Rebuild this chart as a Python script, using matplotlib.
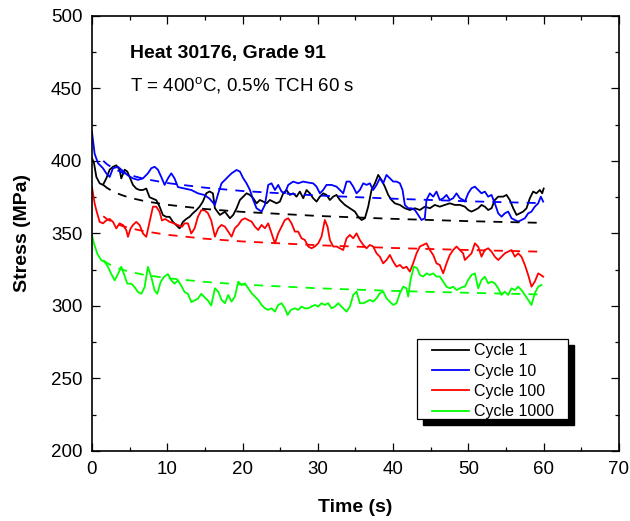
import numpy as np
import matplotlib
matplotlib.use("Agg")
import matplotlib.pyplot as plt
import matplotlib.patches as mpatches
from matplotlib.ticker import MultipleLocator

plt.rcParams["font.family"] = ["Liberation Sans", "DejaVu Sans"]
plt.rcParams["mathtext.fontset"] = "custom"
plt.rcParams["mathtext.rm"] = "Liberation Sans"

# Cycle 1 (black)
c1_t = [0.0, 0.27, 0.58, 1.02, 1.46, 1.90, 2.35, 2.79, 3.23, 3.67, 3.89, 4.34, 4.69, 5.00, 5.44, 5.88, 6.33, 6.77,
        7.21, 7.65, 8.10, 8.54, 8.98, 9.42, 9.87, 10.31, 10.75, 11.19, 11.64, 12.08, 12.52, 12.96, 13.41, 13.85,
        14.29, 14.73, 15.18, 15.62, 16.06,
        16.33, 16.99, 17.66, 18.32, 18.76, 19.21, 19.65, 20.09, 20.53, 20.98, 21.42, 21.86, 22.3, 22.75, 23.19,
        23.63, 24.07, 24.52, 24.96, 25.4, 25.84, 26.29, 26.73, 27.17, 27.61, 28.06, 28.5, 28.94, 29.38, 29.83,
        30.27, 30.71, 31.15, 31.6, 32.04, 32.48,
        32.93, 33.59, 34.26, 34.92, 35.36, 35.81, 36.25, 36.69, 37.13, 37.58, 38.02, 38.46, 38.9, 39.35, 39.79,
        40.23, 40.9, 41.56, 42.22, 42.89, 43.55, 44.21, 44.88, 45.54, 46.2, 46.87, 47.53, 48.2, 48.86,
        49.53, 49.97, 50.41, 50.86, 51.3, 51.74, 52.18, 52.63, 53.07, 53.51, 53.96, 54.62, 55.06, 55.5, 55.95,
        56.39, 56.83, 57.27, 57.72, 58.16, 58.6, 59.04, 59.49, 59.8, 60.0]
c1_s = [402, 398.5, 389, 384.6, 383.5, 388, 394, 396, 397, 394, 388, 394, 392.7, 389, 383.5, 381, 380, 380,
        381, 375, 374, 373, 368.5, 362.7, 361.5, 361.5, 358, 355.8, 353.5, 358, 360, 361.5, 364, 366,
        368.5, 372, 377.7, 379, 377.7,
        367.4, 362.8, 365, 360.5, 362.8, 367.4, 373.1, 375.4, 377.7, 376.6, 374.3, 370.8, 373.1, 372, 370.8,
        373.1, 372, 370.8, 372, 377.7, 380, 376.6, 377.7, 375.4, 378.9, 374.3, 380, 377.7, 374.3, 372,
        375.4, 377.7, 376.6, 373.1, 375.4, 376.6,
        373.1, 369.7, 367.4, 365.1, 361.6, 359.3, 360.5, 368.5, 380, 384.6, 390.4, 386.9, 382.3, 376.6, 373.1,
        370.8, 369.7, 367.4, 366.2, 367.4, 366.2, 368.5, 367.4, 369.7, 368.5, 369.7, 370.8, 369.7, 369.7,
        368.5, 366.2, 365.1, 366.2, 367.4, 369.7, 368.5, 366.2, 367.4, 373.1, 375.4, 375.4, 376.6, 373.1, 367.4,
        362.8, 363.9, 365.1, 367.4, 374.3, 378.9, 377.7, 380, 377.7, 381]

# Cycle 10 (blue)
c10_t = [0.0, 0.35, 0.80, 1.46, 1.90, 2.35, 2.79, 3.45, 4.12, 4.78, 5.44, 6.11, 6.77, 7.43, 7.88, 8.32, 8.76,
         9.20, 9.65, 10.09, 10.53, 10.97, 11.42, 12.30, 13.19, 14.07, 14.96, 15.62,
         16.33, 16.77, 17.21, 17.88, 18.54, 19.21, 19.65, 20.09, 20.53, 20.98, 21.42, 21.86, 22.53, 22.97,
         23.41, 23.85, 24.3, 24.74, 25.18, 25.62, 26.07, 26.73, 27.39, 28.06, 28.72, 29.38, 29.83, 30.27,
         30.71, 31.15, 31.82, 32.48,
         32.93, 33.37, 33.81, 34.26, 34.7, 35.14, 35.58, 36.03, 36.47, 36.91, 37.35, 37.8, 38.24, 38.68, 39.12,
         39.57, 40.01, 40.45, 40.9, 41.25, 41.56, 42.0, 42.44, 42.89, 43.33, 43.77, 44.21, 44.43, 44.88, 45.32,
         45.76, 46.2, 46.65, 47.09, 47.53, 47.97, 48.42, 48.86, 49.3,
         49.53, 49.97, 50.41, 50.86, 51.3, 51.74, 52.18, 52.63, 53.07, 53.51, 53.96, 54.4, 54.84, 55.28, 55.73,
         56.17, 56.61, 57.05, 57.5, 57.94, 58.38, 58.82, 59.27, 59.62, 59.93]
c10_s = [420, 405, 398.5, 395, 391.5, 389, 395, 396, 393, 390, 388, 387, 388, 391.5, 395, 396, 394,
         389, 383.5, 388, 391.5, 388, 382, 381, 380, 377.7, 376.5, 374,
         369.7, 377.7, 384.6, 388.1, 391.5, 393.8, 392.7, 388.1, 384.6, 380, 373.1, 367.4, 365.1, 369.7,
         383.5, 384.6, 380, 383.5, 378.9, 377.7, 383.5, 385.8, 384.6, 385.8, 385.1, 384.6, 382.3, 377.7,
         380, 383.5, 383.5, 382.3,
         380, 377.7, 385.8, 385.8, 382.3, 377.7, 380, 384.6, 383.5, 384.6, 380, 383.5, 388.1, 384.6, 390.4,
         388.1, 385.8, 385.8, 384.6, 380, 369.7, 367.4, 367.4, 366.2, 362.8, 359.3, 360.5, 373.1, 377.7, 375.4,
         378.9, 373.1, 374.3, 376.6, 373.1, 374.3, 377.7, 374.3, 373.1,
         372, 377.7, 381.2, 382.3, 380, 377.7, 378.9, 375.4, 376.6, 370.8, 363.9, 361.6, 363.9, 365.1, 360.5,
         359.3, 358.2, 359.3, 360.5, 363.9, 365.1, 368.5, 370.8, 375.4, 372]

# Cycle 100 (red)
c100_t = [0.0, 0.35, 0.58, 1.02, 1.46, 1.90, 2.35, 2.79, 3.23, 3.67, 4.12, 4.56, 4.78, 5.13, 5.44, 5.88, 6.33,
          6.77, 7.21, 7.65, 8.10, 8.54, 8.98, 9.29, 9.73, 10.31, 10.88, 11.42, 11.95, 12.30, 12.74, 13.19,
          13.63, 14.07, 14.51, 14.96, 15.40, 15.84,
          16.33, 16.77, 17.21, 17.66, 18.10, 18.54, 18.98, 19.43, 19.87, 20.31, 20.75, 21.2, 21.64, 22.08,
          22.53, 22.97, 23.41, 23.85, 24.3, 24.74, 25.18, 25.62, 26.07, 26.51, 26.95, 27.39, 27.83, 28.28,
          28.72, 29.16, 29.6, 30.05, 30.49, 30.93, 31.29, 31.6, 32.04, 32.48,
          33.37, 33.81, 34.26, 34.7, 35.14, 35.58, 36.03, 36.47, 36.91, 37.35, 37.8, 38.24, 38.68, 39.12,
          39.57, 40.01, 40.45, 40.9, 41.34, 41.78, 42.22, 42.66, 43.11, 43.55, 43.99, 44.43, 44.88, 45.32,
          45.76, 46.2, 46.65, 47.09, 47.53, 47.97, 48.42, 48.86, 49.3,
          49.53, 49.97, 50.41, 50.86, 51.3, 51.74, 52.18, 52.63, 53.07, 53.51, 53.96, 54.4, 54.84, 55.28,
          55.73, 56.17, 56.61, 57.05, 57.5, 57.94, 58.38, 58.82, 59.27, 59.62, 59.93]
c100_s = [382, 370.8, 366, 358, 357, 359, 360, 358, 353.5, 357, 355.8, 352.3, 347.7, 353.5, 355.8, 358, 355.8,
          350, 347.7, 358, 368.5, 368.5, 365, 359, 360, 358, 357, 355.8, 354.6, 357, 357, 350,
          353.5, 361.5, 366, 366, 364, 359,
          347.8, 353.6, 355.9, 354.7, 351.3, 347.8, 353.6, 355.9, 359.3, 360.5, 359.3, 358.2, 354.7, 352.4,
          355.9, 353.6, 357, 350.1, 343.2, 350.1, 354.7, 359.3, 360.5, 357, 351.3, 351.3, 346.7, 345.5,
          341, 339.8, 341, 343.2, 347.8, 359.3, 354.7, 345.5, 341, 341,
          338.6, 346.7, 349, 346.7, 350.1, 345.5, 342.1, 339.8, 342.1, 341, 336.3, 334, 329.4, 331.7,
          335.2, 330.6, 327.1, 328.3, 326, 327.1, 323.7, 329.4, 336.3, 341, 342.1, 343.2, 338.6, 335.2,
          329.4, 328.3, 322.5, 329.4, 335.2, 338.6, 341, 338.6, 336.3,
          331.7, 334, 336.3, 343.2, 340.9, 334, 338.6, 339.8, 337.5, 334, 331.7, 334, 336.3, 337.5,
          338.6, 334, 336.3, 334, 328.3, 321.4, 313.3, 316.8, 322.5, 321.4, 320.2]

# Cycle 1000 (green)
c1000_t = [0.0, 0.27, 0.71, 1.24, 1.68, 2.12, 2.57, 3.01, 3.45, 3.89, 4.25, 4.69, 5.22, 5.66, 6.11, 6.55, 6.99,
           7.43, 7.88, 8.32, 8.67, 9.12, 9.56, 10.09, 10.53, 10.97, 11.42, 11.86, 12.30, 12.74, 13.19, 13.63,
           14.07, 14.51, 14.96, 15.40, 15.84,
           16.33, 16.77, 17.21, 17.66, 18.10, 18.54, 18.98, 19.43, 19.87, 20.31, 20.75, 21.2, 21.64, 22.08,
           22.53, 22.97, 23.41, 23.85, 24.3, 24.74, 25.18, 25.62, 25.98, 26.42, 26.95, 27.39, 27.83, 28.28,
           28.72, 29.16, 29.6, 30.05, 30.49, 30.93, 31.37, 31.82, 32.26, 32.7,
           33.37, 33.81, 34.26, 34.7, 35.14, 35.58, 36.03, 36.47, 36.91, 37.35, 37.8, 38.24, 38.68, 39.12,
           39.57, 40.01, 40.45, 40.9, 41.34, 41.78, 42.0, 42.31, 42.75, 43.2, 43.55, 43.99, 44.43, 44.88,
           45.32, 45.76, 46.2, 46.65, 47.09, 47.53, 47.97, 48.42, 48.86, 49.3,
           49.53, 49.97, 50.41, 50.86, 51.3, 51.74, 52.18, 52.63, 53.07, 53.51, 53.96, 54.4, 54.84, 55.28,
           55.73, 56.17, 56.61, 57.05, 57.5, 57.94, 58.38, 58.82, 59.27, 59.71]
c1000_s = [348.8, 343, 336, 331.5, 330.4, 327, 322, 317.7, 322, 327, 322, 315.4, 315.4, 313, 309.6, 308.4, 313,
           327, 320, 310.7, 308.4, 316.5, 320, 322, 317.7, 315.4, 317.7, 314, 309.6, 308.4, 302.7, 303.8,
           305, 308.4, 306, 303.8, 300.3,
           312.2, 309.9, 304.2, 301.9, 307.6, 303, 306.5, 316.8, 314.5, 315.6, 312.2, 308.8, 306.5, 304.2,
           300.7, 298.4, 297.3, 298.4, 296.1, 300.7, 301.9, 298.4, 293.8, 297.3, 298.4, 297.3, 299.6, 298.4,
           298.4, 299.6, 300.7, 299.6, 301.9, 300.7, 301.9, 298.4, 299.6, 301.9,
           298.4, 296.1, 299.6, 307.6, 309.9, 301.9, 301.9, 303, 304.2, 303, 305.3, 308.8, 309.9, 305.3,
           303, 300.7, 301.9, 308.8, 313.3, 312.2, 306.5, 318, 327.1, 326, 321.4, 320.3, 322.5, 321.4,
           322.5, 320.3, 320.3, 316.8, 313.3, 312.2, 313.3, 311, 312.2, 313.3,
           313.3, 318, 321.4, 322.5, 312.2, 318, 320.2, 315.6, 316.8, 315.6, 312.2, 307.6, 309.9, 307.6,
           312.2, 311, 313.3, 311, 307.6, 304.2, 300.7, 308.8, 313.3, 314.5]

# dashed fit curves
fit_t = [1.5, 2, 3, 4, 5, 7, 10, 15, 20, 30, 40, 50, 60]
c1_fit = [383.5, 381.4, 378.4, 376.4, 374.7, 372.3, 369.8, 366.9, 364.9, 362.1, 360.1, 358.5, 357.3]
c10_fit = [400.1, 397.7, 394.4, 392.1, 390.3, 387.6, 384.8, 381.6, 379.3, 376.2, 374.0, 372.2, 370.9]
c100_fit = [361.9, 359.9, 357.2, 355.2, 353.7, 351.5, 349.1, 346.4, 344.5, 341.9, 340.0, 338.6, 337.4]
c1000_fit = [331.5, 329.6, 326.9, 325.1, 323.6, 321.4, 319.2, 316.6, 314.8, 312.2, 310.4, 309.1, 307.9]

labels = ["Cycle 1", "Cycle 10", "Cycle 100", "Cycle 1000"]
colors = ["#000000", "#0000FF", "#FF0000", "#00FF00"]

fig = plt.figure(figsize=(6.3, 5.21), dpi=100)
ax = fig.add_axes([0.146, 0.1344, 0.8365, 0.8349])

series = [(c1_t, c1_s, c1_fit), (c10_t, c10_s, c10_fit),
          (c100_t, c100_s, c100_fit), (c1000_t, c1000_s, c1000_fit)]
handles = []
for (t, s, fit), col, lab in zip(series, colors, labels):
    h, = ax.plot(t, s, color=col, lw=1.3, label=lab, zorder=2)
    handles.append(h)
for (t, s, fit), col in zip(series, colors):
    ax.plot(fit_t, fit, color=col, lw=1.3, ls=(0, (5, 4.5)), zorder=3)

ax.set_xlim(0, 70)
ax.set_ylim(200, 500)
ax.xaxis.set_major_locator(MultipleLocator(10))
ax.xaxis.set_minor_locator(MultipleLocator(5))
ax.yaxis.set_major_locator(MultipleLocator(50))
ax.yaxis.set_minor_locator(MultipleLocator(25))
ax.tick_params(which="both", direction="in", top=True, right=True, width=0.9, labelsize=13.5)
ax.tick_params(which="major", length=5.5, pad=7)
ax.tick_params(which="minor", length=3)
for sp in ax.spines.values():
    sp.set_linewidth(1.2)

ax.set_xlabel("Time (s)", fontsize=14, fontweight="bold", labelpad=15)
ax.set_ylabel("Stress (MPa)", fontsize=14, fontweight="bold", labelpad=14)

ax.text(0.072, 0.914, "Heat 30176, Grade 91", transform=ax.transAxes,
        fontsize=14, fontweight="bold", va="center", ha="left")
ax.text(0.072, 0.840, r"T = 400$^{\mathregular{o}}$C, 0.5% TCH 60 s", transform=ax.transAxes,
        fontsize=13.5, va="center", ha="left")

# legend box with a hard black shadow
bx, by, bw, bh = 0.617, 0.0736, 0.286, 0.184
ax.add_patch(mpatches.Rectangle((bx + 0.0114, by - 0.0138), bw, bh, transform=ax.transAxes,
                                facecolor="black", edgecolor="black", zorder=4.5, clip_on=False))
ax.add_patch(mpatches.Rectangle((bx, by), bw, bh, transform=ax.transAxes,
                                facecolor="white", edgecolor="black", lw=0.9, zorder=4.6, clip_on=False))
ax.legend(handles=handles, loc="upper left", bbox_to_anchor=(0.6452, 0.2475), borderaxespad=0,
          borderpad=0, frameon=False, fontsize=11.5, handlelength=2.3, handletextpad=0.35,
          labelspacing=0.33)

fig.savefig("out.png", dpi=100, facecolor="white")
